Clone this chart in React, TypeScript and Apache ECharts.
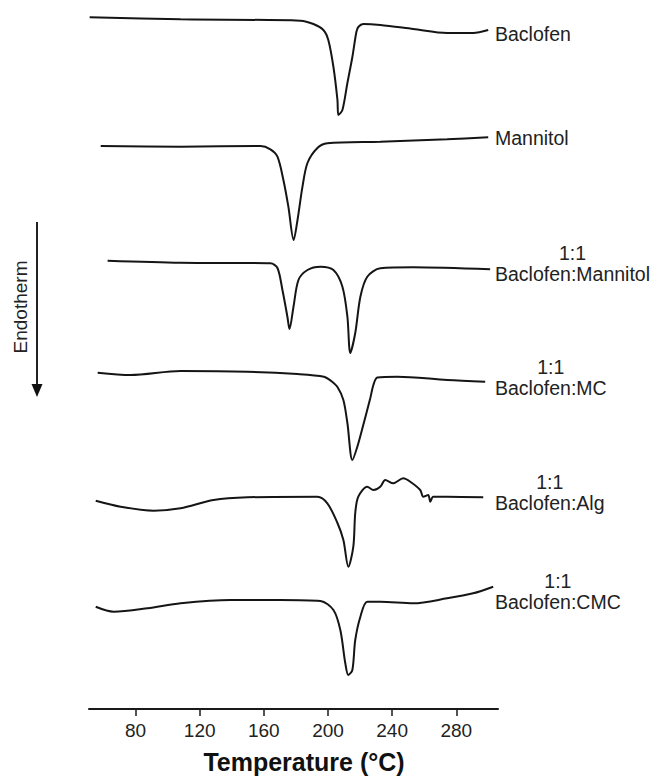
import React, { useEffect, useRef } from "react";
import * as echarts from "echarts";

// Temperature (°C) and stacked heat-flow depth (a.u., endotherm down; larger = further down)
const baclofenT = [51.4, 108.1, 182.8, 190.9, 197.1, 200.2, 203.4, 205.9, 206.5, 209.0, 212.1, 215.2, 217.7, 218.9, 222.0, 232.6, 253.2, 274.3, 290.5, 299.9];
const baclofenY = [17.3, 19.3, 20.7, 24, 30, 40, 67, 100, 115, 110, 83, 57, 32, 27, 24, 25, 29, 33, 33, 30];

const mannitolT = [58.3, 108.1, 157.9, 164.1, 168.5, 172.2, 175.3, 178.6, 181.0, 184.1, 187.2, 193.4, 199.6, 232.6, 274.3, 299.9];
const mannitolY = [146, 146.7, 146, 149.3, 156.7, 180, 206.7, 240, 220, 186.7, 163, 148, 143.3, 141.7, 139.3, 137.3];

const bacManT = [62.6, 108.1, 164.1, 168.5, 171.6, 174.7, 176.0, 178.5, 181.6, 187.2, 195.3, 203.4, 209.0, 212.1, 213.9, 217.0, 220.2, 224.5, 232.6, 253.2, 301.1];
const bacManY = [260.7, 262.7, 263.3, 268, 290, 316.7, 329, 306.7, 280, 270, 266.7, 270, 286.7, 316.7, 353, 333, 296.7, 276.7, 268.3, 267.3, 269.3];

const bacMcT = [56.4, 76.9, 108.1, 149.8, 181.0, 197.5, 202.0, 205.9, 209.6, 212.1, 215.2, 218.3, 222.0, 226.4, 228.3, 230.8, 243.2, 274.3, 298.0];
const bacMcY = [372.7, 375, 371, 371.7, 374, 376.7, 381, 387, 400, 423, 460, 446.7, 425, 398, 385, 377.5, 376.7, 380, 381.7];

const bacAlgT = [55.2, 70.7, 91.3, 108.1, 128.6, 149.8, 193.4, 199.6, 205.9, 209.6, 212.7, 215.8, 217.0, 218.9, 224.5, 228.3, 232.6, 235.7, 240.7, 246.9, 251.3, 257.5, 259.4, 262.5, 263.8, 265.6, 274.3, 296.8];
const bacAlgY = [500.7, 506.7, 510.7, 508.3, 500, 497.3, 496.7, 503.3, 523, 540, 566.7, 546.7, 513, 496.7, 486.7, 490, 486.7, 480, 483.3, 478.3, 481.7, 490, 496.7, 495, 501.7, 496.7, 496.7, 497.3];

const bacCmcT = [55.2, 66.4, 87.5, 108.1, 139.2, 170.4, 195.3, 203.4, 207.7, 210.8, 212.7, 215.2, 217.0, 220.2, 224.5, 232.6, 253.2, 274.3, 290.5, 303.0];
const bacCmcY = [606.7, 611.7, 608.3, 603.3, 600, 600, 601, 610, 630, 663.3, 675, 670, 640, 616.7, 601.7, 601.7, 603.3, 598.3, 593.3, 586.7];

const seriesNames = ["Baclofen", "Mannitol", "Baclofen:Mannitol", "Baclofen:MC", "Baclofen:Alg", "Baclofen:CMC"];
const ratioPrefix = ["", "", "1:1", "1:1", "1:1", "1:1"];
const tickValues = [80, 120, 160, 200, 240, 280];
const depthRange = 709;

const FONT = "'Liberation Sans', Arial, sans-serif";

function measure(text: string, size: number): number {
  const c = document.createElement("canvas").getContext("2d");
  if (!c) return text.length * size * 0.55;
  c.font = `${size}px ${FONT}`;
  return c.measureText(text).width;
}

export default function App() {
  const ref = useRef<HTMLDivElement>(null);
  useEffect(() => {
    if (!ref.current) return;
    const chart = echarts.init(ref.current, undefined, { renderer: "svg" });
    const pairs: [number[], number[]][] = [
      [baclofenT, baclofenY],
      [mannitolT, mannitolY],
      [bacManT, bacManY],
      [bacMcT, bacMcY],
      [bacAlgT, bacAlgY],
      [bacCmcT, bacCmcY],
    ];
    const series = pairs.map(([t, y], i) => ({
      type: "line",
      name: seriesNames[i],
      data: t.map((v, k) => [v, depthRange - y[k]]),
      showSymbol: false,
      smooth: 0.3,
      lineStyle: { color: "#151515", width: 2 },
    }));

    const labelCenters = [34, 138, 274, 388, 503, 602];
    const labelX = 495;
    const fs = 19.5;
    const labelGraphics: any[] = [];
    seriesNames.forEach((name, i) => {
      labelGraphics.push({
        type: "text",
        x: labelX,
        y: labelCenters[i],
        style: {
          text: name,
          fontSize: fs,
          fontFamily: FONT,
          fill: "#222",
          align: "left",
          textAlign: "left",
          verticalAlign: "middle",
          textVerticalAlign: "middle",
        },
      });
      if (ratioPrefix[i]) {
        const w = measure(name, fs);
        labelGraphics.push({
          type: "text",
          x: labelX + w / 2,
          y: labelCenters[i] - 21,
          style: {
            text: ratioPrefix[i],
            fontSize: fs,
            fontFamily: FONT,
            fill: "#222",
            align: "center",
            textAlign: "center",
            verticalAlign: "middle",
            textVerticalAlign: "middle",
          },
        });
      }
    });

    chart.setOption({
      animation: false,
      backgroundColor: "#fff",
      grid: { left: 89, right: 160, top: 0, bottom: 68, containLabel: false },
      xAxis: {
        type: "value",
        min: 51,
        max: 306,
        axisLine: { show: true, lineStyle: { color: "#1a1a1a", width: 2 } },
        axisTick: { show: true, length: 7, lineStyle: { color: "#1a1a1a", width: 1.5 }, customValues: tickValues },
        axisLabel: {
          show: true,
          customValues: tickValues,
          fontSize: 19,
          fontFamily: FONT,
          color: "#222",
          margin: 12,
        },
        splitLine: { show: false },
      },
      yAxis: {
        type: "value",
        min: 0,
        max: depthRange,
        show: false,
        axisLine: { show: false },
        axisTick: { show: false },
        axisLabel: { show: false },
        splitLine: { show: false },
      },
      series,
      graphic: [
        ...labelGraphics,
        {
          type: "text",
          x: 304,
          y: 762,
          style: {
            text: "Temperature (°C)",
            fontSize: 25,
            fontWeight: "bold",
            fontFamily: FONT,
            fill: "#111",
            align: "center",
            textAlign: "center",
            verticalAlign: "middle",
            textVerticalAlign: "middle",
          },
        },
        {
          type: "line",
          shape: { x1: 37, y1: 222, x2: 37, y2: 388 },
          style: { stroke: "#222", lineWidth: 2 },
        },
        {
          type: "polygon",
          shape: { points: [[31.5, 384], [42.5, 384], [37, 397]] },
          style: { fill: "#111" },
        },
        {
          type: "text",
          x: 20,
          y: 307,
          rotation: Math.PI / 2,
          style: {
            text: "Endotherm",
            fontSize: 19,
            fontFamily: FONT,
            fill: "#222",
            align: "center",
            textAlign: "center",
            verticalAlign: "middle",
            textVerticalAlign: "middle",
          },
        },
      ],
    });
    return () => chart.dispose();
  }, []);
  return (
    <div
      ref={ref}
      style={{ position: "absolute", left: 0, top: 0, width: 658, height: 777, background: "#fff" }}
    />
  );
}
